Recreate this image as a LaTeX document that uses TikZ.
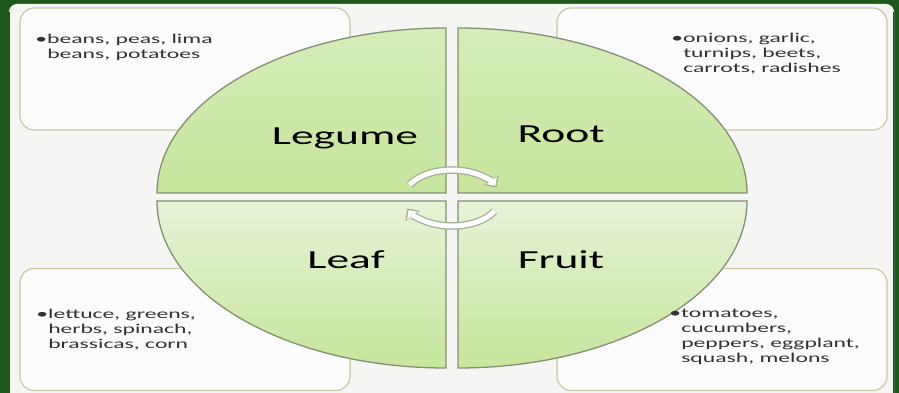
\documentclass[tikz,border=0pt]{standalone}
\usepackage{fontspec}
\setmainfont{Carlito}
\usepackage{tikz}
\usetikzlibrary{positioning, arrows.meta}
\definecolor{framegreen}{RGB}{30,88,28}
\definecolor{framered}{RGB}{125,35,28}
\definecolor{panelgrey}{RGB}{245,246,244}
\definecolor{boxline}{RGB}{202,200,162}
\definecolor{quadline}{RGB}{130,145,115}
\definecolor{leafpale}{RGB}{231,243,216}
\definecolor{leaftop}{RGB}{214,236,186}
\definecolor{leafdeep}{RGB}{198,229,156}
\definecolor{cycleline}{RGB}{160,175,145}
\definecolor{inktext}{RGB}{50,50,50}

\newcommand{\bul}{\makebox[6.8pt][l]{\textbullet}}

\begin{document}
\begin{tikzpicture}[x=1pt, y=1pt,
        every node/.style={font=\fontsize{13.5}{15}\selectfont},
        infobox/.style={rectangle, draw=boxline, line width=1.2pt, fill=white!55!panelgrey, rounded corners=14pt, minimum width=330pt, minimum height=122pt, inner sep=0pt},
        quadrant/.style={draw=quadline, line width=1.3pt},
        topquad/.style={quadrant, top color=leaftop, bottom color=leafdeep},
        lowquad/.style={quadrant, top color=leafpale, bottom color=leafdeep},
        heading/.style={font=\fontsize{26}{30}\selectfont, xscale=1.75, transform shape, anchor=base, inner sep=0pt},
        listing/.style={text=inktext, align=left, xscale=1.75, transform shape, anchor=north west, inner sep=0pt},
        cycleout/.style={draw=cycleline, line width=7.5pt, -{Triangle[length=9pt,width=17pt]}},
        cyclein/.style={draw=white, line width=5pt, shorten >=2pt, -{Triangle[length=6.5pt,width=12.5pt]}}
    ]
        \useasboundingbox (0,0) rectangle (899,393);
        % Frame
        \fill[framegreen] (0,0) rectangle (899,393);
        \fill[panelgrey, rounded corners=8pt] (9,-12) rectangle (894,389);
        \draw[framered, line width=1.3pt] (9.4,0) -- (9.4,381);
        \draw[framered, line width=1.3pt] (893.6,0) -- (893.6,381);

        % Boxes
        \node[infobox] (legumebox) at (185,324) {};
        \node[infobox] (rootbox) at (722,324) {};
        \node[infobox] (leafbox) at (185,63.5) {};
        \node[infobox] (fruitbox) at (722,63.5) {};

        % Quadrants
        \path[topquad] (446,200) -- (157,200) arc[start angle=180, end angle=90, x radius=289, y radius=165] -- cycle;
        \path[topquad] (458,200) -- (458,365) arc[start angle=90, end angle=0, x radius=289, y radius=165] -- cycle;
        \path[lowquad] (446,192) -- (446,25) arc[start angle=270, end angle=180, x radius=289, y radius=167] -- cycle;
        \path[lowquad] (458,192) -- (747,192) arc[start angle=0, end angle=-90, x radius=289, y radius=167] -- cycle;

        % Headings
        \node[heading] (legume) at (345,248) {Legume};
        \node[heading] (root) at (561,250) {Root};
        \node[heading] (leaf) at (346,124) {Leaf};
        \node[heading] (fruit) at (561,124) {Fruit};

        % Lists
        \node[listing] (legumelist) at (35,359) {\bul beans, peas, lima\\\hspace*{6.8pt}beans, potatoes};
        \node[listing] (rootlist) at (671,360) {\bul onions, garlic,\\\hspace*{6.8pt}turnips, beets,\\\hspace*{6.8pt}carrots, radishes};
        \node[listing] (leaflist) at (36,84) {\bul lettuce, greens,\\\hspace*{6.8pt}herbs, spinach,\\\hspace*{6.8pt}brassicas, corn};
        \node[listing] (fruitlist) at (669,84) {\bul tomatoes,\\\hspace*{6.8pt}cucumbers,\\\hspace*{6.8pt}peppers, eggplant,\\\hspace*{6.8pt}squash, melons};

        % Cycle arrows
        \coordinate (hub) at (452,195);
        \draw[cycleout, shift={(hub)}] (152:48 and 28) arc[start angle=152, end angle=22, x radius=48, y radius=28];
        \draw[cyclein, shift={(hub)}] (152:48 and 28) arc[start angle=152, end angle=22, x radius=48, y radius=28];
        \draw[cycleout, shift={(hub)}] (-28:48 and 28) arc[start angle=-28, end angle=-158, x radius=48, y radius=28];
        \draw[cyclein, shift={(hub)}] (-28:48 and 28) arc[start angle=-28, end angle=-158, x radius=48, y radius=28];
    \end{tikzpicture}
\end{document}
